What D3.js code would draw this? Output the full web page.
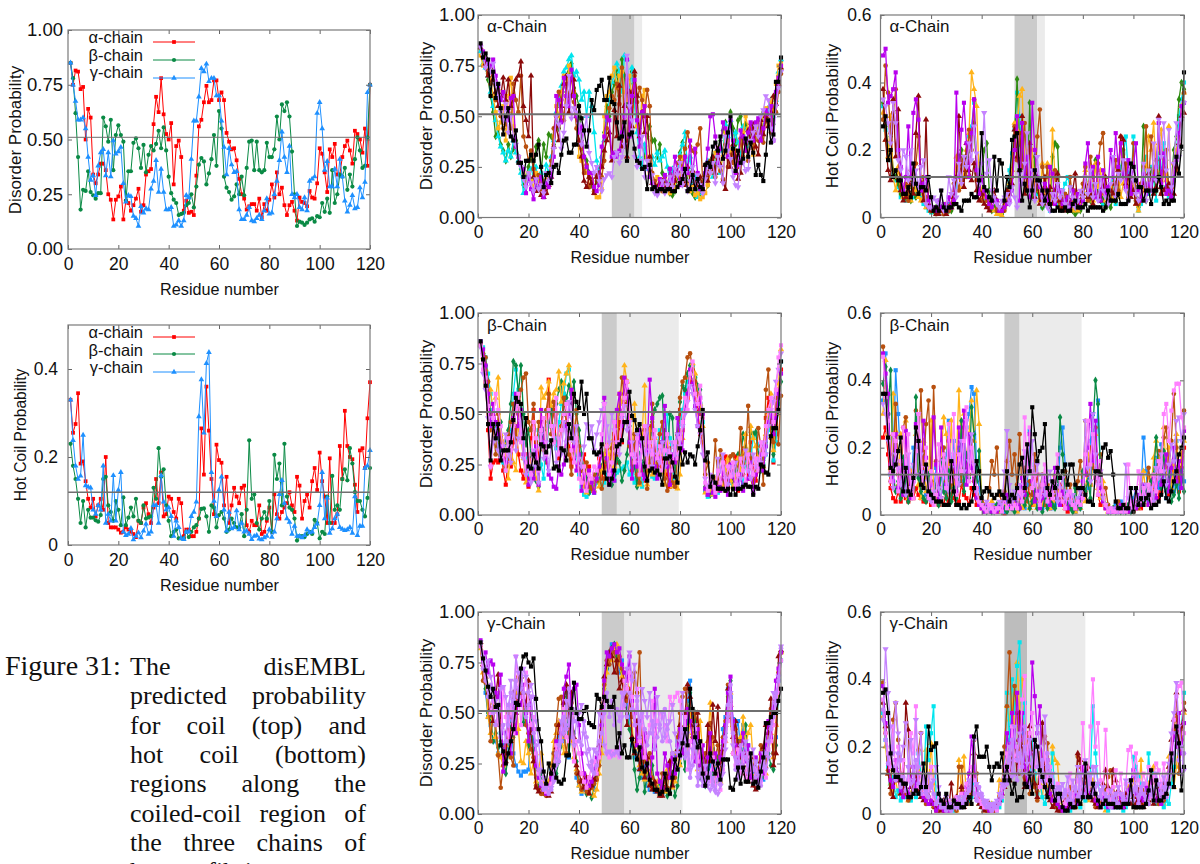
<!DOCTYPE html>
<html>
<head>
<meta charset="utf-8">
<script src="https://cdn.jsdelivr.net/npm/d3@7"></script>
<style>
  html, body { margin: 0; background: #fff; overflow: hidden; }
  text { font-family: "Liberation Sans", sans-serif; fill: #111; }
  .caption { font-family: "Liberation Serif", serif; }
</style>
</head>
<body>
<svg id="chart" width="1200" height="864"></svg>
<script>
const coilTicks = [0, 25, 50, 75, 100];
const coilTickLabels = ["0.00", "0.25", "0.50", "0.75", "1.00"];
const hotTicksLeft = [0, 20, 40];
const hotTickLabelsLeft = ["0", "0.2", "0.4"];
const hotTicks = [0, 20, 40, 60];
const hotTickLabels = ["0", "0.2", "0.4", "0.6"];
const residueTicks = [0, 20, 40, 60, 80, 100, 120];

const avgCoilAlpha = [
85,75,81.5,81,73,74,50,64,60,34,30,34,39,39,36,25,22.5,13.5,22.5,24,
28.5,13.5,22,21,17.5,20,23,27.5,17,20,34,35.5,36.5,57,69.5,62.5,78,61.5,52.5,50,
57.5,29.5,47,49.5,42,17.5,22,16.5,17,15.5,33.5,56,59,67,74.5,67,68,77,77,68,
71.5,68,53,49,45.5,46,40.5,32,25,23,18,19.5,20.5,20.5,17.5,23,14.5,20.5,17.5,22.5,
29.5,23.5,35,25,28,20,15.5,20,21.5,17.5,13,23.5,21.5,21,19.5,26.5,23.5,23,30,46,
43.5,35,26,45.5,42,48,34,34,42,47,49.5,45,39,54,52.5,50,44,55,38,75];
const avgCoilBeta = [
85,78,62,42,18,27,26.5,35.5,26,24.5,23,25.5,25.5,60,56,49,59,36,52,56.5,
52,49,22,35.5,35.5,48.5,50.5,46,37,47.5,35,43,47,45,48,54,46,55.5,45,33,
25.5,22.5,21,15.5,16,16.5,20,21,25,19,28.5,38.5,41.5,40,29.5,34.5,41,52,38,63,
55,33,28,26,22.5,24,29.5,25,33,24.5,37,49,49.5,36,49,36,35,36,48.5,42,
42,45.5,60.5,50,66,63,67,60.5,44.5,25,10.5,12.5,12,11,12,13.5,14,12.5,15,14.5,
21,17,23,16.5,36,21,25,34,33,37,27,34,28.5,41,51,45,37,38,51,75];
const avgCoilGamma = [
85,75,67.5,59,59,60,55,42,31.5,33.5,24.5,38,44,45.5,33.5,44,33,49.5,43.5,44.5,
46.5,30,21.5,24.5,24,15,14,10.5,19.5,16.5,18.5,18,27.5,31,40.5,26,36.5,26,18,18,
19,10.5,11,13,10.5,13,24.5,23.5,41,58.5,58.5,69.5,82.5,81,84.5,76.5,78,78,70,70,
58.5,46.5,34,46,38.5,35,35.5,18,13.5,13.5,15.5,19,13,12.5,14,15.5,13.5,17.5,23,16,
16.5,25,31,40.5,53.5,42,35,47,25,23.5,25,19,18,23.5,17.5,31,32,33,62,67,
55,36,40,28.5,28.5,36.5,28.5,41,33,22,17,20,24.5,18.5,19,28,23.5,30.5,71.5,75];
const avgHotAlpha = [
33,25.5,27.5,34.5,18.5,19,14.5,10.5,8.5,10.5,6.5,9,10.5,8,20,5,4,4,4,3.5,
2.8,3,4,3.5,3,2.5,1.8,5.5,5,8.5,9.5,7,5,8.5,15,9.5,16.5,6.5,7,11,
10.5,7.5,6,10.5,9.5,2,3.5,3.5,2,2,3,6,26.5,16,36,26,15,7,22.8,19.3,
18.7,9,15.5,5,9,13,11,9.5,13,13.5,4.5,3,5.5,4.5,4.5,9,2.5,3,5.5,8.5,
3,11.5,7,6,7.5,8.5,9.5,12,9,7.5,15.5,13.5,6,10,11.5,8.5,14.5,17.5,12.5,21,
14.5,11,5,19.7,5,5,7,22.5,15,30.5,22.5,20,19.5,13.7,7.5,21.5,22,17.5,28.8,37];
const avgHotBeta = [
23,18,15,10.5,5,10,4,8,6.2,6.2,5.6,5.3,6.8,15,15.5,9,7.5,5.5,10,8,
4.5,10.8,4.5,6.2,8.5,6.5,10.5,5.5,5,9,6,6.3,6.5,13,10.5,22,15.5,17.2,9,5.5,
2,3,3.5,1.5,1.5,1.5,3,1.8,3,4,4.5,6,8.2,8.3,6.5,3,9,8.5,4,6.8,
7.5,6,3,3.5,6,5,4,4,7,2,8,23.8,10.5,11.5,5,3.5,6,7.5,6,10,
3,20.5,15,18.5,9,23,11,8.5,8,6,1,2,2,1.8,2.5,3,2.5,5.7,5,1.5,
3,2.5,11,5,15.7,8,9,8,15,17.2,14.7,22,18.5,12,10,10,8,6.5,10.7,17.5];
const avgHotGamma = [
33,23.8,18,15,15.7,25,13.5,13.2,13,8,7,9,8,18,5,7,5.5,15.8,5.5,12.5,
16.5,3,2.2,2.5,3.8,1.2,2,2.8,1.7,3.2,4.8,2.5,3,9,9,5,15.8,9.8,8,8.5,
6.5,2,5.5,4,1.5,1.3,3,3,6.5,7.5,9.8,29.2,37.6,25.5,41.3,43.8,16.5,10,6.5,12.5,
15.5,8,3.2,7.5,3.7,4,7.8,3.5,5,3,3.2,2.5,1.3,2,2.2,1.4,1.2,1.7,2,3.5,
1.8,3,6,11.5,14.7,9.5,6,5.2,2.5,4.3,2,2,1.7,2.2,3.5,2.8,3,4,4.8,9,
16.5,6,10.7,2.7,3.7,6,7,4,3.6,3.3,3.5,4,2.7,11,2.2,4.3,4.3,17.5,18,21.5];

// alpha chain, coil
const alphaCoilGreen = [
83,78,74,68,60,52,40,44,36,33,28,36,30,34,38,30,24,16,20,25,
30,24,35,38,22,36,30,41,40,36,50,44,60,66,62,72,76,64,60,55,
38,30,28,22,16,14,18,24,30,42,55,50,62,66,72,60,78,70,56,66,
72,58,50,44,36,30,40,45,38,38,30,36,22,18,14,12,11,13,20,32,
37,30,18,14,12,10,15,12,18,22,16,24,30,26,33,38,43,47,36,52,
44,36,48,50,38,46,42,35,44,40,46,40,52,48,54,58,46,60,70,77];
const alphaCoilCyan = [
82,76,74,70,62,55,48,40,35,32,28,33,30,38,32,28,22,12,18,22,
24,20,25,16,22,18,26,22,30,38,52,56,65,72,74,78,80,70,72,68,
58,62,50,62,55,42,28,22,30,38,48,58,67,70,76,72,62,80,78,60,
74,55,42,30,25,36,24,24,30,26,32,28,30,33,25,18,24,16,22,31,
36,42,24,30,17,20,10,16,12,22,28,24,20,32,27,22,33,46,40,48,
35,42,37,30,45,38,35,42,45,40,48,38,50,47,52,56,50,58,72,78];
const alphaCoilOrange = [
80,75,76,72,68,60,52,44,47,55,38,60,69,45,35,30,26,22,16,22,
18,15,22,17,19,14,20,16,25,40,55,50,62,70,60,75,68,62,50,30,
28,24,22,20,18,12,10,10,14,50,60,62,70,74,64,70,72,62,58,70,
55,65,45,42,60,63,30,22,19,16,20,15,17,14,16,12,18,15,22,20,
30,21,16,13,15,11,12,9,10,12,16,22,26,32,28,24,30,42,38,33,
30,26,30,36,42,50,44,38,31,40,47,42,50,54,46,58,52,66,75,76];
const alphaCoilRust = [
84,79,75,71,66,70,58,63,50,44,46,52,44,66,58,52,70,40,35,28,
33,24,17,21,14,18,12,19,28,44,50,62,58,48,66,60,70,57,44,36,
34,22,26,15,19,13,21,17,20,28,44,54,60,58,66,56,74,48,68,54,
62,70,57,64,58,50,63,55,22,18,14,17,13,20,15,24,19,21,27,30,
24,34,42,35,33,32,36,44,17,20,22,28,24,20,29,23,19,36,25,31,
27,33,25,39,30,36,28,46,34,42,38,44,37,50,47,42,55,52,62,71];
const alphaCoilDarkRed = [
84,80,76,70,74,68,62,55,60,69,58,68,55,60,68,70,77,55,48,40,
70,20,13,15,11,10,12,16,20,35,45,38,55,66,70,52,60,68,50,38,
30,18,15,20,17,12,20,22,25,33,38,42,28,53,40,65,35,55,30,62,
45,72,60,40,52,42,50,30,17,16,15,17,18,14,16,16,13,18,23,17,
20,16,25,18,23,17,16,20,14,26,18,24,30,22,34,26,18,14,30,25,
36,30,19,22,40,33,43,38,46,35,31,48,41,50,45,52,60,56,66,74];
const alphaCoilViolet = [
85,82,78,76,75,78,70,65,58,62,54,48,59,60,35,30,27,24,12,20,
14,9,18,15,20,10,17,15,20,30,60,58,47,69,60,55,73,60,50,42,
45,30,25,22,22,15,13,16,35,40,50,48,30,32,30,33,42,50,78,40,
60,68,48,35,52,55,25,20,17,15,12,19,16,21,14,24,18,30,22,16,
24,30,22,38,20,34,22,14,15,22,34,50,51,40,27,34,47,44,30,48,
38,22,26,43,40,33,42,47,38,47,49,38,44,53,51,55,38,62,69,75];
const alphaCoilLilac = [
84,80,74,78,72,76,66,60,52,48,56,42,50,40,36,30,25,19,15,22,
17,13,19,14,16,12,22,18,24,34,50,46,34,42,55,70,49,54,52,46,
36,42,50,32,27,22,25,18,13,19,21,22,20,30,32,27,30,36,80,55,
48,30,25,28,40,20,28,24,21,12,11,14,18,12,16,20,15,24,21,27,
16,22,13,18,25,14,21,16,12,19,26,22,27,17,30,25,17,40,33,29,
20,16,15,29,27,23,24,38,42,45,40,50,53,60,58,44,38,55,64,72];
const alphaCoilBlack = [
86,79,81,78,60,72,59,66,54,41,50,54,40,38,43,27,27,20,28,28,
31,28,31,36,25,15,21,22,17,25,26,22,31,38,39,32,32,36,36,55,
49,43,35,43,58,53,63,65,68,58,58,69,57,56,47,39,40,47,28,41,
42,34,28,27,24,25,14,26,14,15,13,14,14,13,14,14,13,13,15,17,
19,24,13,14,21,14,19,15,14,26,27,25,35,37,33,40,29,33,42,50,
34,23,33,27,29,39,30,37,32,21,26,21,18,31,48,37,41,67,67,79];

// alpha chain, hot coil
const alphaHotCyan = [
33,26,19,17,13,11,9,6,8,5,6,5,6,8,9,6,4,3,2,1.5,
2,2,1.5,2,3,2,4,3,5,9,14,11,16,18,24,27,34,15,10,7,
5,6,4,3,2,2,1,1.5,3,6,14,19,26,37,30,17,24,13,18,8,
20,7,6,3,5,4,2,7,6,4,3,8,10,12,9,5,4,2,3,5,
11,7,9,13,8,10,6,4,5,8,6,11,4,9,15,19,24,13,9,24,
5,2,4,12,18,7,15,11,5,19,13,22,9,6,7,11,19,30,35,40];
const alphaHotGreen = [
34,27,20,24,14,12,10,7,8,6,7,5,9,6,8,10,7,5,3,2,
2,3,2,3,3,3,2,2,4,14,18,20,12,14,20,25,28,13,9,12,
20,22,8,2,3,2,2,1,4,8,10,14,24,41,22,15,18,8,34,6,
18,8,5,3,4,7,3,18,22,21,4,5,3,2,3,2,1,2,2,6,
10,6,5,9,17,7,5,6,3,4,3,6,5,7,13,20,9,5,7,11,
6,3,8,27,5,10,14,13,8,12,20,15,17,9,10,20,24,35,40,38];
const alphaHotOrange = [
31,23,18,30,12,8,15,8,6,7,9,5,14,8,6,5,7,3,4,2,
2,2,3,2,2,4,3,3,8,18,12,9,14,20,25,43,38,33,12,8,
6,5,4,3,2,1,1,0.5,3,6,10,14,28,26,36,38,16,22,12,20,
8,12,5,16,7,16,5,26,12,5,3,4,6,3,3,2,3,2,4,8,
14,7,11,5,16,9,14,7,5,6,9,5,7,14,6,10,15,8,12,10,
4,2,5,8,15,24,20,28,14,22,26,13,11,27,9,16,20,24,33,37];
const alphaHotRust = [
29,45,37,25,31,38,18,9,7,10,5,14,10,16,24,8,12,6,3,2,
2,1,3,2,1,3,2,4,10,12,8,16,18,12,26,20,35,11,8,5,
7,5,3,5,6,2,3,2,2,4,7,12,27,17,25,15,28,9,20,12,
8,24,32,15,9,15,4,7,14,5,3,6,7,4,12,5,8,3,5,10,
15,5,18,12,6,16,22,25,8,6,5,10,17,8,24,12,16,6,9,22,
5,4,10,15,27,9,24,12,17,11,7,14,20,7,9,16,14,23,29,37];
const alphaHotDarkRed = [
38,23,14,11,35,18,32,8,5,6,8,10,7,25,36,10,5,29,4,2,
2,1,1,2,2,1,3,3,6,12,30,14,9,22,14,11,16,8,5,7,
4,3,2,5,8,5,2,2,5,8,7,10,26,18,14,30,7,12,22,8,
6,11,4,7,12,4,9,4,8,13,5,3,2,6,4,8,13,3,5,7,
10,6,7,4,8,7,5,9,12,5,8,7,10,14,24,23,10,12,6,8,
4,5,6,10,8,13,11,7,9,30,7,8,9,10,6,7,15,22,30,31];
const alphaHotViolet = [
48,50,34,36,38,43,20,15,8,12,27,12,31,35,29,8,10,12,5,3,
3,2,5,3,4,2,6,3,5,37,12,26,34,22,12,25,35,14,7,12,
8,6,4,3,5,5,2,2,3,4,5,8,20,30,5,28,12,18,6,34,
20,12,9,6,10,5,15,13,4,9,8,4,5,6,3,8,4,7,3,5,
16,22,8,15,6,18,5,14,7,9,20,12,25,15,22,13,9,17,7,15,
22,8,5,13,7,10,8,12,15,28,10,19,7,8,6,12,17,25,33,34];
const alphaHotLilac = [
35,33,28,22,34,28,17,14,20,18,11,20,10,14,9,15,17,4,3,3,
6,5,4,8,2,3,12,7,11,6,16,10,18,15,22,17,27,19,10,16,
31,13,17,8,6,4,3,5,6,7,4,9,6,3,13,10,16,25,8,14,
5,18,10,4,6,3,2,7,5,10,6,8,4,3,9,6,3,5,8,6,
12,7,14,6,10,5,12,8,6,4,10,18,6,13,11,17,8,5,14,11,
7,5,9,16,5,14,8,22,11,29,18,28,14,26,9,16,28,18,29,34];
const alphaHotBlack = [
27,30,17,20,12,14,11,11,7,7,9,6,16,10,7,9,9,8,12,6,
2,3,2,8,3,2,3,3,4,4,3,2,5,5,5,7,6,6,11,25,
9,8,6,5,18,8,17,16,5,12,9,23,24,25,14,5,10,8,3,8,
14,11,11,8,5,8,4,2,2,3,2,2,3,2,2,4,5,3,3,3,
4,2,3,3,3,3,3,2,3,8,5,5,5,7,4,4,4,5,16,15,
11,9,9,5,8,8,4,8,8,12,9,4,5,4,5,5,18,13,21,43];

// beta chain, coil
const betaCoilRed = [
85,79,66,42,18,26,27,26,38,22,15,28,24,36,44,30,22,18,30,14,
38,52,36,28,46,34,26,67,44,52,36,28,42,60,46,34,24,44,30,26,
22,30,16,24,12,14,20,28,18,24,33,16,30,40,26,46,36,60,66,48,
24,36,16,28,22,17,34,44,26,19,30,36,24,42,20,14,28,18,40,52,
42,62,58,66,74,60,52,40,36,12,10,14,11,18,12,16,24,29,14,22,
17,29,12,24,33,28,18,36,24,17,22,28,32,48,58,44,26,40,62,72];
const betaCoilCyan = [
86,83,78,70,60,52,44,38,30,26,22,30,42,60,72,62,50,36,28,20,
24,30,34,42,25,18,36,44,50,38,33,46,55,60,70,72,60,44,30,20,
14,10,9,11,14,11,16,18,14,16,20,22,19,17,21,22,23,24,26,20,
28,16,22,27,14,20,30,40,19,18,33,42,36,29,50,38,22,18,30,45,
52,60,66,70,74,68,62,55,46,12,9,12,10,14,11,17,13,15,20,16,
14,18,24,22,15,26,30,28,38,40,35,22,25,30,42,48,27,36,55,76];
const betaCoilGreen = [
85,80,74,66,50,44,38,34,46,30,36,42,55,76,74,60,74,50,35,42,
30,22,17,14,36,42,28,46,52,40,55,62,66,50,58,64,56,66,50,42,
30,22,18,11,14,12,20,16,24,30,26,18,15,20,28,26,17,22,30,44,
36,24,14,30,26,19,40,36,46,52,55,58,59,34,30,50,48,22,40,56,
64,62,70,74,72,68,64,62,50,14,12,10,16,12,20,14,18,13,22,24,
16,22,30,28,40,33,24,41,40,41,30,22,27,36,48,50,30,44,58,66];
const betaCoilOrange = [
84,78,72,60,62,50,58,68,40,36,30,18,33,26,22,44,38,28,16,26,
22,30,18,12,63,58,60,66,54,60,62,71,56,65,70,74,62,44,32,24,
18,14,11,14,16,12,18,14,22,30,35,28,36,24,44,60,55,74,66,48,
30,55,36,15,40,64,15,42,20,38,26,30,22,15,36,28,14,16,13,20,
38,52,60,68,75,70,60,55,44,11,14,12,10,18,12,16,14,22,28,17,
14,18,28,22,30,40,26,44,38,34,28,30,24,40,50,60,32,50,65,82];
const betaCoilRust = [
85,80,78,66,42,44,30,50,36,28,24,40,46,55,38,50,62,68,70,46,
42,55,28,46,35,32,52,60,40,56,50,34,44,58,46,30,20,36,52,34,
22,18,26,14,13,20,17,24,13,18,27,20,33,46,30,52,68,60,55,34,
22,40,20,16,34,42,13,28,55,33,24,40,46,18,12,33,16,14,28,58,
66,68,78,80,72,66,60,50,48,20,26,15,18,37,14,32,18,12,20,29,
30,24,18,43,20,30,54,28,16,24,43,34,15,62,72,38,36,58,35,59];
const betaCoilViolet = [
86,82,74,60,44,55,46,40,34,28,26,32,38,48,60,44,52,30,26,15,
22,18,34,15,52,36,28,20,18,14,13,24,20,25,44,50,62,34,22,30,
12,20,14,22,16,11,18,24,30,58,28,15,22,17,52,60,44,68,62,36,
18,30,24,42,20,18,32,67,48,24,18,28,36,54,24,15,30,26,48,40,
32,52,60,72,65,54,44,58,50,13,10,16,11,9,14,12,22,18,10,25,
19,13,16,20,12,15,18,26,11,20,24,30,22,34,46,50,40,48,60,70];
const betaCoilLilac = [
83,70,62,48,24,36,42,32,28,34,40,30,26,44,32,38,46,28,20,24,
16,32,24,16,40,28,36,22,34,44,26,38,30,46,36,56,48,36,44,28,
24,34,45,38,44,32,40,46,52,55,44,36,50,42,36,30,48,54,42,46,
36,28,40,26,36,30,44,32,24,38,30,26,36,24,32,28,36,30,40,34,
44,50,56,64,60,52,44,40,30,18,14,20,16,13,28,22,30,18,15,24,
20,26,14,18,24,32,22,18,30,24,28,26,36,30,44,52,56,66,72,80];
const betaCoilPink = [
84,72,68,54,24,48,60,52,44,30,22,38,32,44,52,60,36,42,24,30,
20,46,38,22,42,48,30,52,44,36,58,30,42,50,55,40,32,26,38,18,
16,24,12,20,18,24,22,30,40,55,34,20,26,46,32,36,50,58,66,54,
30,26,38,20,32,44,24,36,30,42,28,34,22,32,40,30,22,36,28,38,
46,58,52,70,76,60,55,64,48,16,12,18,14,11,22,16,26,13,24,19,
26,15,20,28,22,16,30,24,20,28,22,36,30,44,52,58,46,62,78,84];
const betaCoilBlack = [
86,77,64,45,27,45,38,45,27,32,32,32,36,47,58,56,55,38,48,24,
23,30,26,23,35,34,31,34,37,23,24,22,33,32,27,45,38,60,56,53,
66,50,60,38,38,31,30,31,35,21,18,15,18,22,34,35,37,46,46,61,
49,47,42,45,38,24,17,22,23,21,22,20,15,28,28,29,26,19,16,33,
25,31,26,30,29,25,34,42,52,27,31,14,19,16,13,13,13,12,13,10,
13,10,13,13,14,15,14,14,10,14,13,25,24,21,20,39,43,43,52,76];

// beta chain, hot coil
const betaHotRed = [
23,26,18,8,5,4,7,4,6,5,4,7,5,8,6,5,4,4,5,3,
4,6,3,5,3,7,4,6,5,3,4,9,6,5,3,8,6,3,3,2,
1,2,1,1,2,1,1,2,0.5,1.5,3,2,5,3,4,8,5,9,6,3,
5,12,7,4,3,6,2,4,3,5,9,3,2,1,3,2,1,2,3,5,
7,13,9,17,11,6,3,5,2,1,1,1,2,1,1,2,1,1,2,3,
2,5,2,4,7,3,5,8,12,5,7,15,10,6,8,13,11,7,12,20];
const betaHotBlue = [
34,48,30,12,16,43,30,16,8,6,14,7,20,18,12,8,16,6,5,9,
7,14,4,12,7,18,28,14,22,12,20,10,18,26,30,38,36,14,8,3,
1,2,1,2,3,2,1,3,1,4,2,5,3,2,6,4,2,9,25,6,
15,3,5,2,8,3,4,2,3,5,20,26,15,4,3,2,1,3,2,6,
14,8,22,30,13,34,12,6,3,1,2,1,3,2,4,1,2,3,1,5,
8,3,7,23,13,4,6,3,17,8,21,9,5,18,12,7,22,8,14,10];
const betaHotOrange = [
30,46,24,14,36,25,9,24,6,28,5,13,7,24,9,5,22,7,11,28,
8,5,9,18,29,24,12,28,9,16,37,20,30,14,24,34,22,37,27,4,
2,1,2,4,2,3,1,2,3,2,4,2,3,1,4,2,3,6,2,8,
3,2,4,3,7,5,2,4,12,7,5,4,2,3,5,2,1,3,2,9,
4,18,9,15,24,8,5,10,3,1,1,2,1,3,2,1,2,1,3,2,
4,2,6,13,6,12,8,17,22,14,17,26,12,20,8,15,24,13,18,22];
const betaHotRust = [
50,38,30,10,18,33,12,8,26,29,6,12,7,31,20,37,14,27,34,10,
38,16,8,12,20,10,22,7,14,6,18,9,26,16,12,22,10,8,5,4,
3,2,8,16,12,20,6,4,7,16,22,12,18,9,24,6,14,4,10,6,
18,5,8,12,3,9,4,7,6,14,8,5,13,4,9,3,2,10,16,7,
28,12,20,14,26,10,18,6,8,3,1,2,1,4,2,1,3,1,2,1,
3,2,9,5,6,14,8,4,11,19,16,23,26,14,22,36,20,10,14,31];
const betaHotGreen = [
39,44,30,43,12,7,10,5,17,9,4,6,8,35,11,7,5,4,12,6,
4,9,3,16,7,5,13,4,8,5,12,28,7,18,11,32,24,10,19,3,
2,1,2,1,1,3,2,1,2,1,3,2,1,4,2,8,3,6,2,4,
7,2,3,1,5,2,4,3,2,10,29,18,6,3,2,1,8,3,2,13,
7,10,5,26,40,33,12,5,3,1,1,2,1,2,1,2,1,3,1,2,
5,3,8,4,7,5,10,12,23,13,8,19,7,13,4,6,9,5,13,7];
const betaHotViolet = [
48,42,36,15,10,24,8,14,6,25,13,5,10,27,22,12,28,17,6,9,
29,15,5,26,14,9,22,11,16,7,26,15,31,9,24,14,8,5,3,2,
1,3,2,1,2,1,3,2,4,6,3,2,5,3,2,11,6,17,24,10,
4,7,2,5,11,6,3,8,14,5,3,7,4,2,6,3,2,4,5,10,
12,20,33,16,28,13,8,4,2,1,1,1,2,1,3,1,2,1,2,4,
2,6,3,9,5,3,7,11,5,16,9,12,18,7,14,20,10,16,8,25];
const betaHotLilac = [
33,30,22,12,8,18,14,9,12,6,18,8,15,12,30,18,10,14,6,4,
7,12,8,5,16,12,7,14,18,11,9,22,13,28,16,24,15,7,4,3,
2,4,2,3,1,2,4,3,13,25,9,4,7,5,9,6,19,12,14,22,
9,15,5,12,6,10,13,6,9,4,8,11,5,7,4,6,3,5,7,8,
28,14,10,30,18,9,13,5,3,2,1,2,1,1,2,1,15,5,2,3,
7,3,12,5,9,6,8,4,14,11,18,13,9,15,21,16,28,29,22,30];
const betaHotPink = [
47,35,28,10,24,22,7,16,26,12,24,8,5,19,30,14,8,20,5,13,
3,6,21,12,18,8,27,10,30,6,18,13,22,32,10,20,12,8,4,3,
2,1,3,2,1,2,2,1,5,2,4,2,3,2,7,4,29,14,26,8,
12,6,3,9,15,4,7,5,10,18,6,4,2,6,7,3,2,4,3,5,
18,28,15,24,11,6,16,7,3,1,2,1,1,2,1,2,1,15,3,2,
5,13,4,8,5,9,3,12,7,16,13,30,33,22,31,37,39,39,29,26];
const betaHotBlack = [
36,36,23,14,13,15,19,23,7,14,7,6,11,26,22,9,8,15,7,6,
5,4,4,4,3,3,3,16,7,3,3,2,3,2,3,4,8,16,13,5,
7,8,7,6,5,6,7,6,5,13,4,6,5,8,15,17,8,21,13,32,
24,16,19,20,27,8,6,10,8,14,11,13,15,9,15,15,9,8,8,8,
6,4,4,3,13,13,12,20,21,17,19,12,4,2,2,3,2,2,8,1,
8,3,5,3,5,6,2,3,3,4,6,10,5,4,7,10,13,18,20,23];

// gamma chain, coil
const gammaCoilBlue = [
84,75,60,48,44,52,36,30,40,34,28,36,48,30,24,21,19,21,21,22,
46,36,28,18,16,13,12,14,22,30,28,38,44,36,60,28,46,32,18,14,
10,12,16,11,14,12,18,26,36,58,72,78,84,80,82,70,76,60,54,48,
34,28,30,22,18,24,14,12,14,11,12,15,10,13,18,24,16,28,36,30,
42,38,56,66,48,34,40,28,20,26,18,24,32,22,28,20,42,48,62,58,
47,40,46,32,44,28,34,24,20,26,18,24,17,28,36,44,30,38,66,76];
const gammaCoilGreen = [
84,72,62,50,48,36,40,33,36,28,20,30,44,38,52,60,66,45,52,34,
48,30,18,14,20,12,10,12,16,24,20,26,34,58,62,30,44,40,26,16,
12,14,10,12,8,15,18,24,38,62,72,80,82,84,78,76,70,64,50,42,
36,22,12,18,30,11,20,16,24,14,13,16,10,12,9,11,20,9,14,25,
34,22,46,60,36,50,30,18,24,14,22,32,20,16,28,18,34,40,58,66,
42,28,36,22,30,44,26,20,18,16,14,22,19,26,30,24,22,34,60,76];
const gammaCoilOrange = [
82,70,66,48,40,55,38,30,28,24,34,42,38,50,60,42,26,25,36,30,
20,26,16,22,30,14,13,16,24,36,40,46,38,30,52,50,36,28,22,14,
11,18,14,10,13,9,12,20,30,56,70,78,76,82,84,74,68,62,70,56,
44,30,36,24,20,17,22,15,13,12,16,10,14,11,22,18,13,16,30,24,
35,44,30,50,40,28,22,46,30,20,36,55,30,18,24,16,28,36,50,60,
44,30,24,38,48,34,40,44,26,20,17,30,24,20,36,40,28,44,62,80];
const gammaCoilRust = [
83,66,65,58,36,50,44,29,13,24,30,50,28,24,66,68,60,54,44,40,
32,28,14,12,10,10,9,12,20,30,44,57,58,40,30,42,55,36,20,16,
12,20,11,18,13,15,17,24,44,64,76,74,82,80,70,78,72,66,56,62,
48,70,60,80,38,26,22,30,18,15,12,11,20,16,13,24,30,18,38,50,
58,62,52,46,38,50,44,32,22,30,26,45,38,28,34,20,38,46,64,48,
30,42,28,36,24,30,22,18,24,17,22,34,26,23,40,52,30,44,70,80];
const gammaCoilDarkRed = [
85,74,68,60,52,46,58,69,44,30,26,48,36,60,50,62,68,60,54,66,
40,26,13,11,14,12,11,9,11,18,33,44,40,55,64,48,60,38,24,20,
16,13,18,10,14,17,20,34,52,68,74,80,78,70,76,62,66,58,44,60,
38,30,46,22,32,18,28,14,12,16,11,9,9,13,18,26,14,22,32,44,
40,50,64,58,44,38,50,30,28,18,44,26,54,36,53,24,32,44,62,54,
38,46,34,28,24,20,16,28,14,12,18,26,33,44,40,57,24,30,78,81];
const gammaCoilViolet = [
86,76,80,70,76,74,60,58,69,21,40,48,30,56,40,58,54,64,50,36,
58,42,24,18,14,12,10,14,18,22,36,30,40,62,68,74,50,62,64,44,
30,20,16,14,16,22,28,30,44,66,80,78,82,84,80,82,74,70,66,78,
56,50,34,46,28,40,24,18,28,62,20,16,13,30,24,18,28,20,34,42,
30,36,52,46,36,26,42,24,34,14,28,40,22,30,18,28,36,44,60,68,
46,34,24,30,40,26,34,18,22,28,16,30,20,34,46,38,52,66,72,80];
const gammaCoilPink = [
83,74,68,62,50,56,52,46,38,62,48,36,54,40,78,62,44,58,70,52,
44,48,30,20,16,14,11,13,15,22,34,28,42,52,38,36,48,26,36,30,
20,16,13,18,24,26,20,28,40,56,30,28,31,29,32,28,52,66,62,70,
58,44,62,36,48,28,38,44,56,36,46,50,48,44,36,58,54,58,60,56,
34,48,22,36,28,42,26,34,18,14,20,16,28,14,24,12,22,36,46,54,
30,24,32,20,28,18,30,24,16,22,20,16,26,18,32,36,44,58,60,76];
const gammaCoilLilac2 = [
85,72,66,58,64,50,44,52,38,44,36,54,60,46,66,58,72,60,48,54,
58,40,34,22,15,12,14,10,12,18,30,26,36,48,42,62,38,46,52,36,
34,46,38,32,26,20,24,36,40,50,60,48,56,44,52,46,60,54,48,60,
52,44,56,38,50,42,34,40,46,32,38,44,36,52,42,36,30,26,22,28,
42,38,30,18,24,36,14,20,14,18,16,20,14,12,17,15,24,38,54,64,
40,22,26,34,22,28,24,30,22,26,20,14,24,30,36,42,48,60,66,82];
const gammaCoilLilac = [
85,78,72,76,68,62,56,50,62,63,58,44,66,56,78,70,62,72,68,60,
64,58,46,36,22,18,13,11,13,16,24,34,46,40,56,44,52,34,46,50,
54,40,30,24,22,32,30,50,48,34,30,31,29,30,31,29,48,60,72,80,
66,74,58,44,62,56,48,60,40,44,58,42,50,38,44,46,54,40,30,36,
60,28,40,22,32,44,18,22,16,24,14,12,18,11,10,14,20,32,48,60,
34,28,18,24,30,36,20,26,32,18,14,24,30,22,28,44,60,54,68,83];
const gammaCoilBlack = [
85,77,71,63,58,62,53,54,34,31,25,30,36,42,55,54,72,78,79,75,
73,77,57,42,36,21,15,25,20,24,18,16,15,17,29,29,52,65,50,47,
47,51,53,45,44,43,59,57,53,58,56,53,53,58,33,40,30,34,28,28,
37,31,27,33,23,21,25,17,15,12,12,10,11,20,12,10,18,27,22,29,
35,42,34,62,52,38,33,36,20,14,18,30,26,20,25,17,27,27,27,13,
12,17,23,15,23,16,16,30,15,16,13,21,28,45,45,48,50,50,56,62];

// gamma chain, hot coil
const gammaHotOrange = [
29,20,12,9,7,10,6,8,5,7,4,6,10,8,13,7,5,19,8,21,
9,4,2,1,2,3,1,2,3,1,16,7,17,5,3,8,12,6,3,2,
1,2,1,3,1,2,10,9,18,32,28,36,22,45,30,40,20,12,16,10,
14,7,9,5,12,8,11,20,16,15,4,2,3,1,2,4,2,6,3,5,
8,4,6,10,5,3,2,4,1,3,6,2,5,3,2,4,3,8,6,10,
7,4,16,3,5,9,6,14,3,5,8,3,6,17,10,8,14,22,26,30];
const gammaHotCyan = [
30,22,14,9,11,5,7,4,8,5,6,4,7,5,18,12,8,26,16,24,
32,5,2,3,2,1,4,2,1,3,2,4,3,6,4,5,9,7,3,2,
3,2,1,3,2,1,2,4,12,36,22,40,30,44,51,24,33,16,8,22,
12,6,10,5,3,7,9,18,4,2,1,2,1,3,1,2,5,3,2,6,
4,8,12,32,18,9,5,3,2,1,3,2,4,2,3,1,2,5,7,17,
14,11,9,6,4,18,7,12,3,8,5,2,4,3,9,14,22,18,26,36];
const gammaHotRust = [
39,24,13,6,28,33,22,12,8,6,4,5,9,7,19,24,6,3,5,4,
2,1,1,2,1,1,3,2,4,1,14,14,5,3,9,6,22,12,4,2,
3,1,2,2,1,2,5,8,20,32,48,26,38,30,18,12,9,24,6,14,
8,4,18,16,23,21,8,5,2,3,1,2,3,6,8,5,2,17,14,7,
9,5,7,4,2,2,3,5,7,11,13,8,5,3,6,2,4,3,8,5,
2,4,3,7,5,3,9,11,4,3,6,4,8,12,18,25,30,12,22,33];
const gammaHotDarkRed = [
33,26,12,8,5,14,10,6,7,33,25,8,6,11,7,5,4,9,7,3,
3,2,2,1,4,3,2,9,2,5,3,8,2,4,7,12,18,5,3,2,
1,2,3,1,2,3,4,6,8,14,10,16,22,12,30,20,8,13,26,18,
9,5,14,27,12,6,4,2,3,1,1,2,4,2,5,3,7,18,16,5,
11,14,6,4,3,2,5,9,13,8,4,13,10,7,3,2,6,4,3,5,
3,7,4,2,6,4,7,3,5,8,4,9,6,14,22,28,36,20,26,31];
const gammaHotViolet = [
38,27,15,10,8,16,12,7,5,9,6,10,14,8,12,6,5,4,3,4,
3,1,2,2,1,3,1,2,3,4,2,3,6,8,12,23,14,6,4,3,
2,2,1,2,3,2,4,6,10,24,18,30,20,36,22,30,14,9,18,45,
35,24,32,12,8,16,6,4,7,3,2,1,2,3,2,4,6,3,9,14,
6,10,5,7,4,3,2,5,3,2,4,2,6,3,5,2,4,7,10,13,
6,3,5,4,8,5,10,6,4,7,3,5,9,12,16,24,20,30,18,27];
const gammaHotPink = [
34,24,18,14,26,12,20,9,16,7,10,24,18,32,8,12,6,10,7,14,
5,3,6,2,3,2,4,2,3,5,3,6,4,9,7,14,10,5,4,3,
2,3,2,1,2,1,3,8,14,18,12,26,16,20,14,34,41,18,24,30,
14,20,8,12,18,10,14,8,5,9,4,6,3,7,12,5,8,10,6,27,
14,8,26,40,20,27,10,6,25,7,4,8,13,6,12,4,9,19,20,12,
18,10,7,12,9,14,5,11,15,13,8,15,9,11,18,28,35,38,39,24];
const gammaHotLilac2 = [
31,22,15,20,14,10,18,8,11,7,14,9,6,16,9,6,11,7,5,9,
6,3,4,2,2,1,3,1,2,3,2,2,5,3,7,10,6,4,8,6,
4,2,3,1,3,2,3,5,11,9,16,22,12,10,18,14,26,12,8,15,
22,14,12,16,8,18,12,10,7,4,8,5,7,4,6,3,8,5,12,6,
5,12,9,14,8,4,7,3,6,5,2,4,6,3,2,5,3,4,6,4,
8,3,6,9,5,3,8,4,10,6,4,8,5,8,12,18,24,16,12,18];
const gammaHotLilac = [
28,49,36,26,18,33,24,16,20,27,14,22,10,28,14,24,8,6,12,8,
10,14,8,4,3,5,2,3,4,2,5,4,3,6,10,8,22,9,6,5,
3,4,2,3,2,4,6,9,8,14,20,11,26,16,24,12,20,15,22,12,
18,26,20,10,29,14,9,12,6,8,5,9,6,11,4,10,7,14,5,8,
16,7,12,6,14,9,5,8,4,3,7,5,3,8,6,4,10,5,9,7,
12,5,8,6,4,7,6,5,12,9,6,11,7,15,24,30,39,26,20,13];
const gammaHotBlack = [
36,37,30,18,13,11,11,10,9,9,5,5,6,7,6,8,15,8,26,19,
20,21,6,4,3,6,2,2,4,3,3,2,2,3,5,3,23,26,17,17,
17,20,14,10,14,15,14,18,10,14,10,6,9,4,5,5,9,8,12,6,
22,20,13,11,8,5,10,8,4,6,6,2,1,1,3,2,2,4,3,5,
15,5,5,9,6,4,2,3,4,3,3,3,2,2,2,3,3,3,10,2,
2,2,2,2,3,7,13,4,10,4,4,5,6,9,18,8,26,21,7,14];

const seriesColors = {
  red: "#ff0000", green: "#0a8a45", blue: "#1e90ff", orange: "#ffb31a", cyan: "#00e5ee",
  rust: "#b8500f", darkRed: "#8b0a0a", olive: "#2e8b10", violet: "#b800ee",
  lilac: "#c583ff", pink: "#ff80ff", black: "#000000"
};

const svg = d3.select("#chart");
const markers = {
  square: d3.symbol().type(d3.symbolSquare),
  circle: d3.symbol().type(d3.symbolCircle),
  triangle: d3.symbol().type(d3.symbolTriangle),
  star: d3.symbol().type(d3.symbolDiamond)
};

function drawPanel(cfg) {
  const x = d3.scaleLinear().domain([0, 120]).range([cfg.left, cfg.right]);
  const y = d3.scaleLinear().domain([0, cfg.yMax]).range([cfg.bottom, cfg.top]);
  const g = svg.append("g");

  // shaded regions go under the data
  (cfg.bands || []).forEach(b => {
    g.append("rect")
      .attr("x", x(b.from)).attr("width", x(b.to) - x(b.from))
      .attr("y", cfg.top).attr("height", cfg.bottom - cfg.top)
      .attr("fill", b.fill);
  });

  const line = d3.line().x((d, i) => x(i + 1)).y(d => y(d));
  cfg.series.forEach(s => {
    const sg = g.append("g");
    sg.append("path")
      .attr("d", line(s.values))
      .attr("fill", "none").attr("stroke", s.color).attr("stroke-width", cfg.lineWidth);
    sg.selectAll("path.pt").data(s.values).join("path")
      .attr("class", "pt")
      .attr("d", markers[s.marker].size(s.size || cfg.markerSize)())
      .attr("fill", s.color)
      .attr("transform", (d, i) => `translate(${x(i + 1)},${y(d)})${s.flip ? " rotate(180)" : ""}`);
  });

  g.append("line")
    .attr("x1", cfg.left).attr("x2", cfg.right)
    .attr("y1", y(cfg.cut)).attr("y2", y(cfg.cut))
    .attr("stroke", "#6f6f6f").attr("stroke-width", cfg.cutWidth);

  const xAxis = d3.axisBottom(x).tickValues(residueTicks).tickSize(-4).tickPadding(cfg.xPad);
  const yAxis = d3.axisLeft(y).tickValues(cfg.ticks).tickFormat((d, i) => cfg.tickLabels[i]).tickSize(-4).tickPadding(cfg.yPad);
  const ax = g.append("g").attr("transform", `translate(0,${cfg.bottom})`).call(xAxis);
  const ay = g.append("g").attr("transform", `translate(${cfg.left},0)`).call(yAxis);
  [ax, ay].forEach(a => {
    a.select(".domain").remove();
    a.selectAll("line").attr("stroke", "#666");
    a.selectAll("text").attr("font-size", 17.5).attr("font-family", "Liberation Sans").attr("fill", "#111");
  });
  ay.selectAll("text").attr("font-size", cfg.yTickSize || 17.5);
  // gnuplot mirrors its ticks
  g.append("g").attr("transform", `translate(${cfg.right},0)`)
    .call(d3.axisRight(y).tickValues(cfg.ticks).tickFormat("").tickSize(-4))
    .call(a => a.select(".domain").remove())
    .selectAll("line").attr("stroke", "#666");
  g.append("g").attr("transform", `translate(0,${cfg.top})`)
    .call(d3.axisTop(x).tickValues(residueTicks).tickFormat("").tickSize(-4))
    .call(a => a.select(".domain").remove())
    .selectAll("line").attr("stroke", "#666");

  g.append("rect")
    .attr("x", cfg.left).attr("y", cfg.top)
    .attr("width", cfg.right - cfg.left).attr("height", cfg.bottom - cfg.top)
    .attr("fill", "none").attr("stroke", "#7a7a7a").attr("stroke-width", 1.2);

  g.append("text")
    .attr("x", (cfg.left + cfg.right) / 2 + 0.5).attr("y", cfg.bottom + cfg.xLabelGap)
    .attr("text-anchor", "middle").attr("font-size", 16.2)
    .text("Residue number");
  g.append("text")
    .attr("transform", `translate(${cfg.yLabelX},${cfg.yLabelY}) rotate(-90)`)
    .attr("text-anchor", "middle").attr("font-size", cfg.yLabelSize)
    .text(cfg.yLabel);

  if (cfg.title) {
    g.append("text").attr("x", cfg.left + 9).attr("y", cfg.titleY).attr("font-size", 17).text(cfg.title);
  }
  (cfg.legend || []).forEach(l => {
    g.append("text").attr("x", 143).attr("y", l.textY).attr("text-anchor", "end").attr("font-size", 16.5).text(l.label);
    g.append("line").attr("x1", 153).attr("x2", 195).attr("y1", l.lineY).attr("y2", l.lineY)
      .attr("stroke", l.color).attr("stroke-width", cfg.lineWidth);
    g.append("path").attr("d", markers[l.marker].size(cfg.markerSize)())
      .attr("fill", l.color).attr("transform", `translate(174,${l.lineY})`);
  });
}

const leftCol = { left: 68, right: 370, lineWidth: 1, markerSize: 14, xLabelGap: 46 };
const midCol = { left: 478, right: 781, lineWidth: 1.3, markerSize: 17, xLabelGap: 45, xPad: 8, yPad: 3, yTickSize: 18.5,
  yMax: 100, ticks: coilTicks, tickLabels: coilTickLabels, cut: 51, cutWidth: 1.8,
  yLabel: "Disorder Probability", yLabelX: 432, yLabelSize: 17 };
const rightCol = { left: 880.5, right: 1184, lineWidth: 1.3, markerSize: 17, xLabelGap: 45, xPad: 8, yPad: 9,
  yMax: 60, ticks: hotTicks, tickLabels: hotTickLabels, cut: 12, cutWidth: 1.8,
  yLabel: "Hot Coil Probability", yLabelX: 838, yLabelSize: 17 };
const rows = [
  { top: 15, bottom: 217.5, titleY: 32, yLabelY: 116 },
  { top: 313, bottom: 515, titleY: 331, yLabelY: 414 },
  { top: 612, bottom: 814, titleY: 629, yLabelY: 713 }
];
const s = (values, color, marker, flip) => ({ values, color: seriesColors[color], marker, flip });
const dark = "#cbcbcb", darker = "#bdbdbd", light = "#ebebeb";

drawPanel({ ...leftCol, top: 30, bottom: 249, yMax: 100, ticks: coilTicks, tickLabels: coilTickLabels, cut: 51, cutWidth: 1,
  xPad: 9, yPad: 5, yTickSize: 18.5, yLabel: "Disorder Probability", yLabelX: 21, yLabelY: 140, yLabelSize: 17,
  series: [s(avgCoilAlpha, "red", "square"), s(avgCoilBeta, "green", "circle"), s(avgCoilGamma, "blue", "triangle")],
  legend: [
    { label: "α-chain", textY: 43, lineY: 42, color: seriesColors.red, marker: "square" },
    { label: "β-chain", textY: 61, lineY: 60, color: seriesColors.green, marker: "circle" },
    { label: "γ-chain", textY: 78, lineY: 78, color: seriesColors.blue, marker: "triangle" }
  ] });

drawPanel({ ...leftCol, top: 325, bottom: 545, yMax: 50, ticks: hotTicksLeft, tickLabels: hotTickLabelsLeft, cut: 12, cutWidth: 1.6,
  xPad: 9, yPad: 10, yLabel: "Hot Coil Probability", yLabelX: 26, yLabelY: 435, yLabelSize: 15.6,
  series: [s(avgHotAlpha, "red", "square"), s(avgHotBeta, "green", "circle"), s(avgHotGamma, "blue", "triangle")],
  legend: [
    { label: "α-chain", textY: 338, lineY: 337, color: seriesColors.red, marker: "square" },
    { label: "β-chain", textY: 356, lineY: 354, color: seriesColors.green, marker: "circle" },
    { label: "γ-chain", textY: 373, lineY: 372, color: seriesColors.blue, marker: "triangle" }
  ] });

drawPanel({ ...midCol, ...rows[0], title: "α-Chain",
  bands: [{ from: 53, to: 62, fill: dark }, { from: 62, to: 65, fill: light }],
  series: [s(alphaCoilGreen, "olive", "star"), s(alphaCoilCyan, "cyan", "triangle"), s(alphaCoilOrange, "orange", "square"), s(alphaCoilRust, "rust", "circle"),
    s(alphaCoilDarkRed, "darkRed", "triangle"), s(alphaCoilViolet, "violet", "square"), s(alphaCoilLilac, "lilac", "triangle", true),
    s(alphaCoilBlack, "black", "square")] });
drawPanel({ ...rightCol, ...rows[0], title: "α-Chain",
  bands: [{ from: 53, to: 62, fill: dark }, { from: 62, to: 65, fill: light }],
  series: [s(alphaHotCyan, "cyan", "square"), s(alphaHotGreen, "olive", "star"), s(alphaHotOrange, "orange", "triangle"), s(alphaHotRust, "rust", "circle"),
    s(alphaHotDarkRed, "darkRed", "triangle"), s(alphaHotViolet, "violet", "square"), s(alphaHotLilac, "lilac", "triangle", true),
    s(alphaHotBlack, "black", "square")] });

drawPanel({ ...midCol, ...rows[1], title: "β-Chain",
  bands: [{ from: 49, to: 55, fill: dark }, { from: 55, to: 79.5, fill: light }],
  series: [s(betaCoilRed, "red", "square"), s(betaCoilCyan, "cyan", "square"), s(betaCoilGreen, "green", "star"), s(betaCoilOrange, "orange", "triangle"),
    s(betaCoilRust, "rust", "circle"), s(betaCoilViolet, "violet", "square"), s(betaCoilLilac, "lilac", "triangle", true), s(betaCoilPink, "pink", "square"),
    s(betaCoilBlack, "black", "square")] });
drawPanel({ ...rightCol, ...rows[1], title: "β-Chain",
  bands: [{ from: 49, to: 55, fill: dark }, { from: 55, to: 79.5, fill: light }],
  series: [s(betaHotRed, "red", "square"), s(betaHotBlue, "blue", "square"), s(betaHotOrange, "orange", "triangle"), s(betaHotRust, "rust", "circle"),
    s(betaHotGreen, "green", "star"), s(betaHotViolet, "violet", "square"), s(betaHotLilac, "lilac", "triangle", true), s(betaHotPink, "pink", "square"),
    s(betaHotBlack, "black", "square")] });

drawPanel({ ...midCol, ...rows[2], title: "γ-Chain",
  bands: [{ from: 49, to: 58, fill: dark }, { from: 58, to: 81, fill: light }],
  series: [s(gammaCoilBlue, "blue", "square"), s(gammaCoilGreen, "green", "star"), s(gammaCoilOrange, "orange", "triangle"), s(gammaCoilRust, "rust", "circle"),
    s(gammaCoilDarkRed, "darkRed", "triangle"), s(gammaCoilViolet, "violet", "square"), s(gammaCoilPink, "pink", "square"),
    s(gammaCoilLilac2, "lilac", "circle"), s(gammaCoilLilac, "lilac", "triangle", true),
    s(gammaCoilBlack, "black", "square")] });
drawPanel({ ...rightCol, ...rows[2], title: "γ-Chain",
  bands: [{ from: 49, to: 58, fill: darker }, { from: 58, to: 81, fill: light }],
  series: [s(gammaHotOrange, "orange", "triangle"), s(gammaHotCyan, "cyan", "square"), s(gammaHotRust, "rust", "circle"), s(gammaHotDarkRed, "darkRed", "triangle"),
    s(gammaHotViolet, "violet", "square"), s(gammaHotPink, "pink", "square"), s(gammaHotLilac2, "lilac", "circle"), s(gammaHotLilac, "lilac", "triangle", true),
    s(gammaHotBlack, "black", "square")] });

// side caption, justified to the column like in the thesis page
const captionLines = [
  "The disEMBL", "predicted probability", "for coil (top) and", "hot coil (bottom)",
  "regions along the", "coiled-coil region of", "the three chains of", "human fibrinogen"
];
const captionLeft = 130, captionRight = 366, captionFirst = 675, captionStep = 29.3;
svg.append("text").attr("class", "caption").attr("x", 5).attr("y", captionFirst).attr("font-size", 28).text("Figure 31:");
captionLines.forEach((t, i) => {
  const el = svg.append("text").attr("class", "caption")
    .attr("x", captionLeft).attr("y", captionFirst + i * captionStep)
    .attr("font-size", 26).text(t);
  const gaps = t.split(" ").length - 1;
  if (i < captionLines.length - 1) {
    const extra = (captionRight - captionLeft - el.node().getComputedTextLength()) / gaps;
    el.attr("word-spacing", extra);
  }
});
</script>
</body>
</html>
